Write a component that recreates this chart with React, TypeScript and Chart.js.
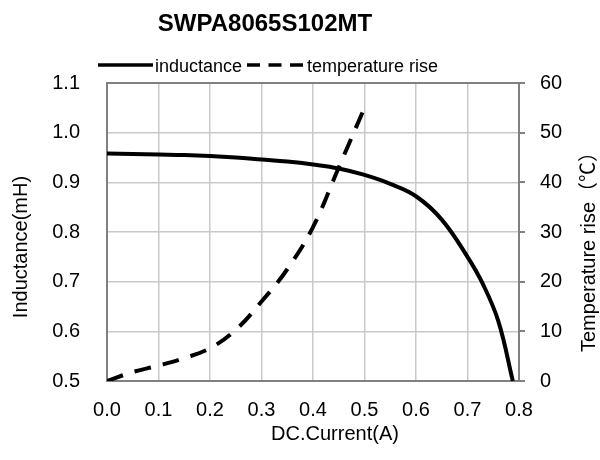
import React, { useEffect, useRef } from "react";
import { Chart, registerables } from "chart.js";

Chart.register(...registerables);

const chartTitle = "SWPA8065S102MT";
const seriesNames = ["inductance", "temperature rise"];
const xTitle = "DC.Current(A)";
const yLeftTitle = "Inductance(mH)";
const yRightTitle = "Temperature rise（℃）";

const currentL = [0, 0.05, 0.1, 0.15, 0.2, 0.25, 0.3, 0.35, 0.4, 0.45, 0.5, 0.55, 0.6, 0.65, 0.7, 0.73, 0.76, 0.788];
const inductance = [0.958, 0.957, 0.956, 0.955, 0.953, 0.95, 0.946, 0.942, 0.936, 0.928, 0.915, 0.897, 0.872, 0.825, 0.75, 0.695, 0.62, 0.5];

const currentT = [0, 0.05, 0.1, 0.15, 0.2, 0.25, 0.3, 0.35, 0.4, 0.45, 0.5];
const tempRise = [0, 1.8, 3.1, 4.6, 6.6, 10.3, 16, 22.5, 31, 43, 55];

const FONT = '"Liberation Sans", Arial, "Noto Sans CJK SC", sans-serif';
const GRID = "#c9c9c9";
const FRAME = "#808080";

const decorPlugin = {
  id: "decor",
  afterDraw(chart: any) {
    const ctx = chart.ctx as CanvasRenderingContext2D;
    ctx.save();
    ctx.fillStyle = "#000";
    // title
    ctx.font = `bold 24px ${FONT}`;
    ctx.textAlign = "center";
    ctx.textBaseline = "alphabetic";
    ctx.fillText(chartTitle, 265, 31);
    // legend
    const ly = 65;
    ctx.strokeStyle = "#000";
    ctx.lineWidth = 3.5;
    ctx.setLineDash([]);
    ctx.beginPath();
    ctx.moveTo(98, ly);
    ctx.lineTo(153, ly);
    ctx.stroke();
    ctx.setLineDash([13, 8.5]);
    ctx.beginPath();
    ctx.moveTo(247, ly);
    ctx.lineTo(304, ly);
    ctx.stroke();
    ctx.setLineDash([]);
    ctx.font = `18px ${FONT}`;
    ctx.textAlign = "left";
    ctx.fillText(seriesNames[0], 155, 71.5);
    ctx.fillText(seriesNames[1], 307, 71.5);
    // axis titles
    ctx.font = `20px ${FONT}`;
    ctx.textAlign = "center";
    ctx.fillText(xTitle, 335, 440);
    ctx.save();
    ctx.translate(27, 247);
    ctx.rotate(-Math.PI / 2);
    ctx.fillText(yLeftTitle, 0, 0);
    ctx.restore();
    ctx.save();
    ctx.translate(595, 247);
    ctx.rotate(-Math.PI / 2);
    ctx.fillText(yRightTitle, 0, 0);
    ctx.restore();
    ctx.restore();
  },
};

export default function App() {
  const ref = useRef<HTMLCanvasElement | null>(null);

  useEffect(() => {
    if (!ref.current) return;
    const tickFont = { family: FONT, size: 20 };
    const chart = new Chart(ref.current, {
      type: "line",
      data: {
        datasets: [
          {
            label: seriesNames[0],
            data: currentL.map((x, i) => ({ x, y: inductance[i] })),
            borderColor: "#000",
            backgroundColor: "transparent",
            borderWidth: 4,
            pointRadius: 0,
            tension: 0.4,
            yAxisID: "y",
          },
          {
            label: seriesNames[1],
            data: currentT.map((x, i) => ({ x, y: tempRise[i] })),
            borderColor: "#000",
            backgroundColor: "transparent",
            borderWidth: 4,
            borderDash: [17, 12],
            pointRadius: 0,
            tension: 0.4,
            yAxisID: "y2",
          },
        ],
      },
      options: {
        animation: false,
        responsive: false,
        devicePixelRatio: 1,
        layout: { padding: { top: 83, left: 0, right: 0, bottom: 0 } },
        plugins: {
          legend: { display: false },
          title: { display: false },
          tooltip: { enabled: false },
        },
        scales: {
          x: {
            type: "linear",
            min: 0,
            max: 0.8,
            afterFit: (s: any) => {
              s.height = 79;
            },
            ticks: {
              stepSize: 0.1,
              padding: 17,
              color: "#000",
              font: tickFont,
              maxRotation: 0,
              callback: (v: any) => Number(v).toFixed(1),
            },
            grid: { color: GRID, lineWidth: 1.5, drawTicks: false },
            border: { color: FRAME, width: 2 },
          },
          y: {
            type: "linear",
            position: "left",
            min: 0.5,
            max: 1.1,
            afterFit: (s: any) => {
              s.width = 107;
            },
            ticks: {
              stepSize: 0.1,
              padding: 27,
              color: "#000",
              font: tickFont,
              callback: (v: any) => Number(v).toFixed(1),
            },
            grid: {
              drawTicks: false,
              color: (c: any) => (c.index === 6 ? FRAME : GRID),
              lineWidth: (c: any) => (c.index === 6 ? 2 : 1.5),
            },
            border: { color: FRAME, width: 2 },
          },
          y2: {
            type: "linear",
            position: "right",
            min: 0,
            max: 60,
            afterFit: (s: any) => {
              s.width = 81;
            },
            ticks: {
              stepSize: 10,
              padding: 15,
              color: "#000",
              font: tickFont,
            },
            grid: {
              drawOnChartArea: false,
              drawTicks: true,
              tickLength: 6,
              color: FRAME,
              lineWidth: 2,
            },
            border: { color: FRAME, width: 2 },
          },
        },
      },
      plugins: [decorPlugin],
    } as any);
    return () => chart.destroy();
  }, []);

  return (
    <div style={{ position: "absolute", left: 0, top: 0, width: 600, height: 460, background: "#fff" }}>
      <canvas ref={ref} width={600} height={460} style={{ width: 600, height: 460, display: "block" }} />
    </div>
  );
}
